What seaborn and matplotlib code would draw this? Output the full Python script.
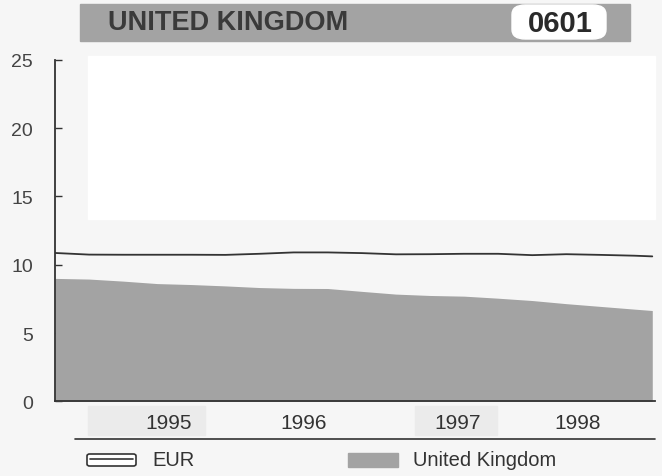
import matplotlib
matplotlib.use("Agg")
import matplotlib.pyplot as plt
import matplotlib.patches as mpatches
import seaborn as sns
import pandas as pd

# quarterly readings, x in fractional years
period = [1994.67, 1994.92, 1995.17, 1995.42, 1995.67, 1995.92, 1996.17, 1996.42,
          1996.67, 1996.92, 1997.17, 1997.42, 1997.67, 1997.92, 1998.17, 1998.42,
          1998.67, 1998.92, 1999.05]
eur = [10.86, 10.74, 10.73, 10.73, 10.73, 10.72, 10.80, 10.90, 10.90, 10.85,
       10.76, 10.77, 10.80, 10.80, 10.70, 10.77, 10.72, 10.66, 10.61]
uk = [9.00, 8.95, 8.80, 8.62, 8.55, 8.45, 8.33, 8.27, 8.26, 8.05,
      7.85, 7.75, 7.70, 7.55, 7.38, 7.15, 6.95, 6.75, 6.65]
years = ["1995", "1996", "1997", "1998"]
year_pos = [1995.50, 1996.49, 1997.62, 1998.50]
yticks = [0, 5, 10, 15, 20, 25]

df = pd.DataFrame({"period": period, "EUR": eur, "United Kingdom": uk})

W, H = 662, 477
BG = "#f6f6f6"
GREY = "#a3a3a3"
DARK = "#333333"


def fx(px):
    return px / W


def fy(py):
    return 1 - py / H


sns.set_theme(style="white")
plt.rcParams["font.family"] = ["Liberation Sans", "DejaVu Sans"]

fig = plt.figure(figsize=(W / 100, H / 100), dpi=100, facecolor=BG)

# white scan patch in upper plot area
fig.patches.append(mpatches.Rectangle((fx(88), fy(220)), fx(655) - fx(88), fy(57) - fy(220),
                                      transform=fig.transFigure, color="white", zorder=0))
# light patches behind year labels
for x0, x1 in [(88, 205), (415, 497)]:
    fig.patches.append(mpatches.Rectangle((fx(x0), fy(436)), fx(x1) - fx(x0), fy(407) - fy(436),
                                          transform=fig.transFigure, color="#ebebeb", zorder=0))

ax = fig.add_axes([fx(55), fy(402.4), fx(655) - fx(55), fy(60.7) - fy(402.4)])
ax.set_facecolor("none")
ax.set_zorder(5)

ax.fill_between(df["period"], 0, df["United Kingdom"], color=GREY, lw=0, zorder=1)
sns.lineplot(data=df, x="period", y="EUR", ax=ax, color=DARK, lw=1.3, zorder=3)

ax.set_xlim(1994.67, 1999.07)
ax.set_ylim(0, 25)
ax.set_yticks(yticks)
ax.set_yticklabels([str(t) for t in yticks], fontsize=14, color="#444444")
ax.set_xticks(year_pos)
ax.set_xticklabels(years, fontsize=15, color="#333333")
ax.tick_params(axis="y", direction="in", length=5, width=1, color=DARK, pad=16, left=True)
ax.tick_params(axis="x", length=0, pad=8)
ax.set_xlabel("")
ax.set_ylabel("")
for s in ["top", "right"]:
    ax.spines[s].set_visible(False)
for s in ["left", "bottom"]:
    ax.spines[s].set_color(DARK)
    ax.spines[s].set_linewidth(1.3)

# title bar
fig.patches.append(mpatches.Rectangle((fx(80), fy(42)), fx(630) - fx(80), fy(5) - fy(42),
                                      transform=fig.transFigure, color=GREY, zorder=1))
fig.patches.append(mpatches.FancyBboxPatch((fx(512), fy(40)), fx(606) - fx(512), fy(6) - fy(40),
                                           boxstyle="round,pad=0,rounding_size=0.02",
                                           transform=fig.transFigure, color="white", zorder=2))
fig.text(fx(108), fy(23), "UNITED KINGDOM", fontsize=19.5, fontweight="bold",
         color="#3a3a3a", va="center", ha="left", zorder=3)
fig.text(fx(560), fy(24), "0601", fontsize=21, fontweight="bold",
         color="#2a2a2a", va="center", ha="center", zorder=3)

# rule above legend
fig.add_artist(plt.Line2D([fx(75), fx(655)], [fy(440), fy(440)], color=DARK, lw=1.2,
                          transform=fig.transFigure))

# legend
fig.patches.append(mpatches.FancyBboxPatch((fx(87), fy(467)), fx(136) - fx(87), fy(455) - fy(467),
                                           boxstyle="round,pad=0,rounding_size=0.004",
                                           transform=fig.transFigure, facecolor="white",
                                           edgecolor=DARK, lw=1.2, zorder=2))
fig.add_artist(plt.Line2D([fx(90), fx(133)], [fy(460), fy(460)], color=DARK, lw=1.2,
                          transform=fig.transFigure, zorder=3))
fig.text(fx(152), fy(461), "EUR", fontsize=14.5, color="#333333", va="center", ha="left")
fig.patches.append(mpatches.Rectangle((fx(348), fy(468)), fx(398) - fx(348), fy(454) - fy(468),
                                      transform=fig.transFigure, color=GREY, zorder=2))
fig.text(fx(413), fy(461), "United Kingdom", fontsize=14.5, color="#333333", va="center", ha="left")

fig.savefig("out.png", dpi=100, facecolor=BG)
